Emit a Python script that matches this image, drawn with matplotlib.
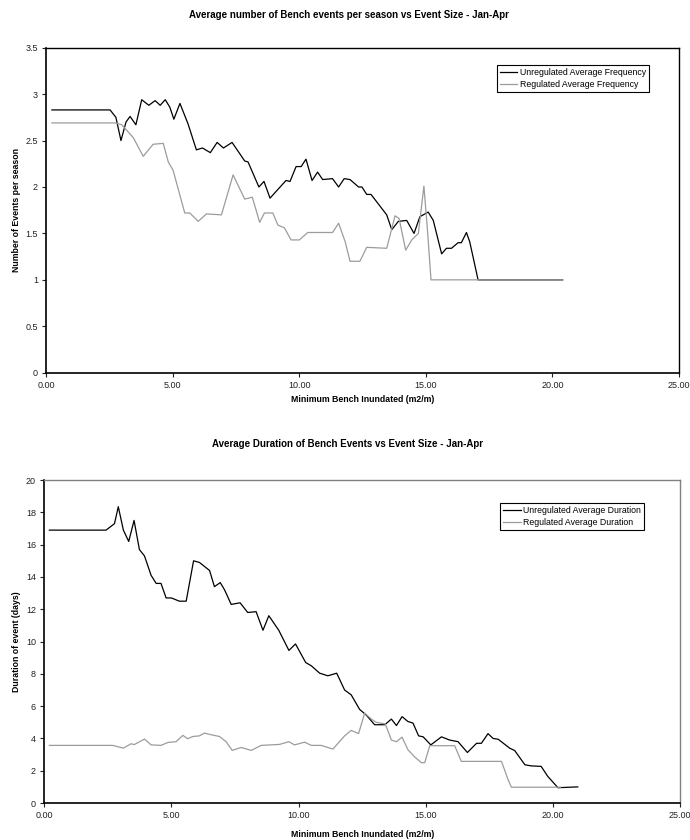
import numpy as np
import matplotlib
matplotlib.use("Agg")
import matplotlib.pyplot as plt
from matplotlib.ticker import FormatStrFormatter

plt.rcParams['font.family'] = ['Liberation Sans', 'DejaVu Sans']

# --- frequency chart data ---
freq_unreg_x = [0.22, 2.52, 2.75, 2.95, 3.15, 3.31, 3.54, 3.77, 4.05, 4.3, 4.5, 4.7, 4.88,
                5.04, 5.28, 5.6, 5.93, 6.17, 6.48, 6.75, 7.0, 7.34, 7.84, 7.97, 8.4,
                8.6, 8.84, 9.47, 9.63, 9.87, 10.07, 10.26, 10.5, 10.72, 10.92, 11.31,
                11.55, 11.77, 12.0, 12.34, 12.47, 12.66, 12.83, 13.45, 13.65, 13.91,
                14.24, 14.53, 14.76, 15.09, 15.29, 15.62, 15.81, 16.01, 16.27, 16.4,
                16.6, 16.73, 17.06, 20.4]
freq_unreg_y = [2.83, 2.83, 2.75, 2.50, 2.70, 2.76, 2.67, 2.94, 2.88, 2.93, 2.88, 2.94, 2.86,
                2.73, 2.90, 2.68, 2.40, 2.42, 2.37, 2.48, 2.42, 2.48, 2.28, 2.27, 2.00,
                2.06, 1.88, 2.07, 2.06, 2.22, 2.22, 2.30, 2.07, 2.16, 2.08, 2.09,
                2.00, 2.09, 2.08, 2.00, 2.00, 1.92, 1.92, 1.70, 1.54, 1.63,
                1.64, 1.50, 1.68, 1.73, 1.64, 1.28, 1.34, 1.34, 1.40, 1.40,
                1.51, 1.41, 1.00, 1.00]

freq_reg_x = [0.22, 2.72, 2.98, 3.18, 3.44, 3.83, 4.22, 4.62, 4.82, 5.01, 5.47, 5.67, 6.0,
              6.33, 6.92, 7.38, 7.84, 8.14, 8.43, 8.62, 8.95, 9.15, 9.41, 9.67, 10.0,
              10.33, 11.31, 11.55, 11.81, 12.0, 12.39, 12.66, 13.45, 13.78, 13.94, 14.2,
              14.44, 14.7, 14.92, 15.07, 15.2, 20.4]
freq_reg_y = [2.69, 2.69, 2.67, 2.61, 2.53, 2.33, 2.46, 2.47, 2.27, 2.18, 1.72, 1.72, 1.63,
              1.71, 1.70, 2.13, 1.87, 1.89, 1.62, 1.72, 1.72, 1.59, 1.56, 1.43, 1.43,
              1.51, 1.51, 1.61, 1.41, 1.20, 1.20, 1.35, 1.34, 1.69, 1.66, 1.32,
              1.43, 1.50, 2.01, 1.50, 1.00, 1.00]

# --- duration chart data ---
dur_unreg_x = [0.2, 2.43, 2.76, 2.91, 3.11, 3.32, 3.53, 3.74, 3.94, 4.2, 4.4, 4.59, 4.79,
               5.0, 5.31, 5.58, 5.87, 6.1, 6.5, 6.69, 6.92, 7.09, 7.35, 7.7, 8.0, 8.33,
               8.6, 8.83, 9.22, 9.62, 9.88, 10.28, 10.5, 10.83, 11.15, 11.5, 11.81,
               12.07, 12.4, 12.66, 12.99, 13.39, 13.65, 13.85, 14.07, 14.3, 14.5, 14.72,
               14.9, 15.2, 15.62, 15.94, 16.27, 16.64, 17.0, 17.19, 17.45, 17.65, 17.85,
               18.3, 18.5, 18.9, 19.15, 19.54, 19.8, 20.2, 20.98]
dur_unreg_y = [16.9, 16.9, 17.3, 18.35, 16.9, 16.2, 17.5, 15.7, 15.3, 14.1, 13.6, 13.6, 12.7,
               12.7, 12.5, 12.5, 15.0, 14.9, 14.4, 13.4, 13.65, 13.2, 12.3, 12.4, 11.8, 11.85,
               10.7, 11.6, 10.7, 9.45, 9.85, 8.7, 8.5, 8.04, 7.88, 8.04, 7.0,
               6.7, 5.8, 5.45, 4.85, 4.85, 5.2, 4.8, 5.35, 5.05, 4.95, 4.16,
               4.1, 3.6, 4.1, 3.9, 3.8, 3.13, 3.7, 3.7, 4.3, 4.0, 3.95,
               3.4, 3.25, 2.37, 2.3, 2.27, 1.65, 0.95, 1.0]

dur_reg_x = [0.2, 2.69, 3.11, 3.41, 3.54, 3.94, 4.2, 4.59, 4.86, 5.18, 5.45, 5.64, 5.84,
             6.1, 6.3, 6.56, 6.89, 7.15, 7.39, 7.74, 8.14, 8.53, 9.25, 9.62, 9.84,
             10.24, 10.5, 10.89, 11.35, 11.81, 12.07, 12.36, 12.6, 12.86, 13.05, 13.41,
             13.65, 13.85, 14.07, 14.3, 14.57, 14.83, 14.96, 15.16, 16.14, 16.4, 17.98,
             18.24, 18.37, 20.3]
dur_reg_y = [3.57, 3.57, 3.4, 3.67, 3.62, 3.96, 3.6, 3.57, 3.75, 3.8, 4.19, 3.98, 4.12,
             4.16, 4.33, 4.23, 4.12, 3.8, 3.26, 3.44, 3.26, 3.57, 3.63, 3.8, 3.6,
             3.77, 3.57, 3.57, 3.34, 4.16, 4.5, 4.3, 5.57, 5.2, 5.0, 4.9,
             3.9, 3.8, 4.08, 3.3, 2.85, 2.5, 2.5, 3.55, 3.55, 2.58, 2.58,
             1.44, 0.98, 0.98]

x_ticks = [0, 5, 10, 15, 20, 25]
freq_ticks = [0, 0.5, 1, 1.5, 2, 2.5, 3, 3.5]
dur_ticks = list(range(0, 21, 2))

BLACK = '#000000'
GREY = '#9c9c9c'

fig = plt.figure(figsize=(6.9, 8.4), dpi=100)


def style_axes(ax, frame_col):
    ax.set_xlim(0, 25)
    ax.set_xticks(x_ticks)
    ax.xaxis.set_major_formatter(FormatStrFormatter('%.2f'))
    ax.tick_params(direction='out', length=3, width=0.8, labelsize=6.5, pad=3, colors='#222222')
    for s in ['left', 'bottom']:
        ax.spines[s].set_linewidth(1.2)
        ax.spines[s].set_color(BLACK)
    for s in ['top', 'right']:
        ax.spines[s].set_linewidth(1.0)
        ax.spines[s].set_color(frame_col)


# top chart
ax1 = fig.add_axes([0.0671, 0.5563, 0.917, 0.3869])
ax1.plot(freq_unreg_x, freq_unreg_y, color=BLACK, lw=0.9, solid_joinstyle='round',
         label='Unregulated Average Frequency')
ax1.plot(freq_reg_x, freq_reg_y, color=GREY, lw=0.9, solid_joinstyle='round',
         label='Regulated Average Frequency')
ax1.set_ylim(0, 3.5)
ax1.set_yticks(freq_ticks)
ax1.set_yticklabels(['0', '0.5', '1', '1.5', '2', '2.5', '3', '3.5'])
style_axes(ax1, BLACK)
ax1.legend(loc='upper left', bbox_to_anchor=(0.712, 0.947), fontsize=6.3, frameon=True,
           fancybox=False, edgecolor=BLACK, framealpha=1, borderpad=0.35,
           handlelength=2.0, handletextpad=0.3, labelspacing=0.35, borderaxespad=0)
ax1.legend_.get_frame().set_linewidth(0.8)

fig.text(0.506, 0.982, 'Average number of Bench events per season vs Event Size - Jan-Apr',
         ha='center', va='center', fontsize=7, fontweight='bold')
fig.text(0.526, 0.525, 'Minimum Bench Inundated (m2/m)', ha='center', va='center',
         fontsize=6.3, fontweight='bold')
fig.text(0.0246, 0.75, 'Number of Events per season', ha='center', va='center',
         rotation=90, fontsize=6.3, fontweight='bold')

# bottom chart
ax2 = fig.add_axes([0.0642, 0.0440, 0.9213, 0.3845])
ax2.plot(dur_unreg_x, dur_unreg_y, color=BLACK, lw=0.9, solid_joinstyle='round',
         label='Unregulated Average Duration')
ax2.plot(dur_reg_x, dur_reg_y, color=GREY, lw=0.9, solid_joinstyle='round',
         label='Regulated Average Duration')
ax2.set_ylim(0, 20)
ax2.set_yticks(dur_ticks)
style_axes(ax2, '#808080')
ax2.legend(loc='upper left', bbox_to_anchor=(0.717, 0.929), fontsize=6.3, frameon=True,
           fancybox=False, edgecolor=BLACK, framealpha=1, borderpad=0.35,
           handlelength=2.0, handletextpad=0.3, labelspacing=0.35, borderaxespad=0)
ax2.legend_.get_frame().set_linewidth(0.8)

fig.text(0.503, 0.4714, 'Average Duration of Bench Events vs Event Size - Jan-Apr',
         ha='center', va='center', fontsize=7, fontweight='bold')
fig.text(0.526, 0.007, 'Minimum Bench Inundated (m2/m)', ha='center', va='center',
         fontsize=6.3, fontweight='bold')
fig.text(0.024, 0.236, 'Duration of event (days)', ha='center', va='center',
         rotation=90, fontsize=6.3, fontweight='bold')

fig.savefig('out.png', dpi=100)
